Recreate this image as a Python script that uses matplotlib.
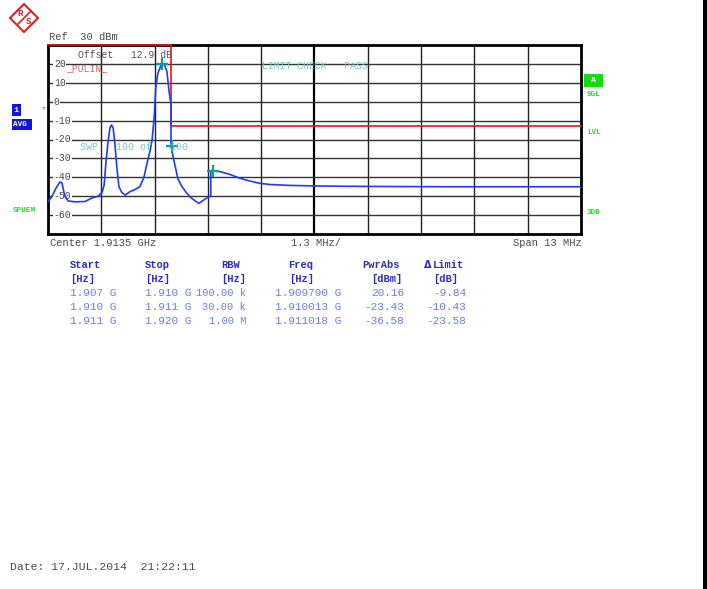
import matplotlib
matplotlib.use('Agg')
import matplotlib.pyplot as plt
from matplotlib.patches import Polygon, Rectangle

# spectrum trace (MHz, dBm)
freq_mhz = [1907.00, 1907.10, 1907.20, 1907.29, 1907.34, 1907.41, 1907.49, 1907.66,
            1907.90, 1908.07, 1908.22, 1908.32, 1908.37, 1908.41, 1908.46, 1908.51,
            1908.55, 1908.59, 1908.63, 1908.68, 1908.73, 1908.80, 1908.88, 1909.00,
            1909.12, 1909.24, 1909.34, 1909.41, 1909.49, 1909.54, 1909.59, 1909.63,
            1909.68, 1909.76, 1909.80, 1909.85, 1909.90, 1909.95, 1910.00, 1910.00,
            1910.02, 1910.10, 1910.17, 1910.27, 1910.37, 1910.46, 1910.59, 1910.68,
            1910.80, 1910.90, 1910.97, 1910.97, 1911.20, 1911.44, 1911.68, 1911.93,
            1912.17, 1912.41, 1912.90, 1913.63, 1914.60, 1915.58, 1916.80, 1918.02,
            1919.00, 1920.00]
level_dbm = [-53.0, -50.0, -45.5, -42.5, -43.0, -50.0, -52.5, -53.0,
             -52.8, -51.0, -50.0, -48.0, -44.0, -33.0, -22.0, -14.0,
             -12.3, -14.0, -22.0, -35.0, -45.0, -48.0, -49.4, -47.6,
             -46.5, -45.0, -40.0, -33.0, -26.0, -20.0, -8.0, 8.0,
             15.0, 19.5, 20.2, 19.0, 16.0, 6.0, -1.5, -22.0,
             -26.0, -34.0, -41.0, -45.0, -48.0, -50.3, -52.5, -53.8,
             -52.0, -50.5, -50.0, -36.5, -37.0, -38.5, -40.5, -42.0,
             -43.2, -43.8, -44.3, -44.6, -44.8, -44.9, -45.0, -45.0,
             -45.0, -45.0]

# limit line
limit_freq = [1907.0, 1910.0, 1910.0, 1920.0]
limit_dbm = [30, 30, -13, -13]

# markers
marker_freq = [1909.790, 1910.013, 1911.018]
marker_dbm = [20.16, -23.43, -36.58]

y_labels = [20, 10, 0, -10, -20, -30, -40, -50, -60]

# result table
t_start = ['1.907 G', '1.910 G', '1.911 G']
t_stop = ['1.910 G', '1.911 G', '1.920 G']
t_rbw = ['100.00 k', '30.00 k', '1.00 M']
t_freq = ['1.909790 G', '1.910013 G', '1.911018 G']
t_pwr = ['20.16', '-23.43', '-36.58']
t_lim = ['-9.84', '-10.43', '-23.58']

W, H = 707, 589
MONO = 'Liberation Mono'
GRAY = '#4a4a4a'
TEAL = '#7cc6c6'
GREEN = '#22dd22'
BLUE = '#1e3cff'

fig = plt.figure(figsize=(W / 100, H / 100), dpi=100)
fig.patch.set_facecolor('white')


def px(x, y):
    return x / W, 1 - y / H


def ftext(x, y, s, **kw):
    kw.setdefault('family', MONO)
    kw.setdefault('fontsize', 7.5)
    kw.setdefault('color', GRAY)
    kw.setdefault('va', 'center')
    fig.text(*px(x, y), s, **kw)


# plot area
l, r, t, b = 48, 581, 45, 234
ax = fig.add_axes([l / W, 1 - b / H, (r - l) / W, (b - t) / H])
ax.set_xlim(1907, 1920)
ax.set_ylim(-70, 30)
ax.set_xticks([])
ax.set_yticks([])
for s in ax.spines.values():
    s.set_linewidth(2)
    s.set_color('black')

for i in range(1, 10):
    x = 1907 + 1.3 * i
    ax.axvline(x, color='#222222' if i != 5 else 'black', lw=1.6 if i == 5 else 1.0, zorder=1)
for v in range(-60, 30, 10):
    ax.axhline(v, color='#333333', lw=1.0, zorder=1)

ytr = ax.get_yaxis_transform()
for v in y_labels:
    ax.text(0.011, v, str(v), transform=ytr, family=MONO, fontsize=7, color=GRAY,
            va='center', ha='left', zorder=2,
            bbox=dict(facecolor='white', edgecolor='none', pad=0.3))

ax.plot(limit_freq, limit_dbm, color='#ee1111', lw=1.2, zorder=4, clip_on=False)
ax.plot(freq_mhz, level_dbm, color=BLUE, lw=1.2, zorder=5)
ax.plot(marker_freq, marker_dbm, '+', color='#119a9a', ms=9, mew=1.6, zorder=6)

# texts inside the grid
ftext(78, 55, 'Offset   12.9 dB', color='#555555', fontsize=7)
ftext(66, 68, '_PULIN_', color='#e86060', fontsize=7)
ftext(262, 66, 'LIMIT CHECK   PASS', color=TEAL, fontsize=7)
ftext(80, 147, 'SWP   100 of   100', color=TEAL, fontsize=7.2)

# header / footer
ftext(49, 37, 'Ref  30 dBm')
ftext(50, 243, 'Center 1.9135 GHz')
ftext(291, 243, '1.3 MHz/')
ftext(513, 243, 'Span 13 MHz')
ftext(10, 567, 'Date: 17.JUL.2014  21:22:11', fontsize=8.2)

# left side labels
fig.patches.append(Rectangle(px(12, 116), 9 / W, 12 / H, transform=fig.transFigure,
                             facecolor='#1414e0', edgecolor='none'))
fig.patches.append(Rectangle(px(12, 130), 20 / W, 11 / H, transform=fig.transFigure,
                             facecolor='#1414e0', edgecolor='none'))
ftext(13.5, 110, '1', color='white', fontweight='bold', fontsize=6)
ftext(13, 124.5, 'AVG', color='white', fontweight='bold', fontsize=5.5)
ftext(41, 110, '*', color=GREEN, fontsize=7)
ftext(13, 211, 'SPUEM', color=GREEN, fontweight='bold', fontsize=5.5)

# right side labels
fig.patches.append(Rectangle(px(584, 87), 19 / W, 13 / H, transform=fig.transFigure,
                             facecolor='#11dd11', edgecolor='none'))
ftext(593.5, 80.5, 'A', color='white', fontweight='bold', fontsize=6, ha='center')
ftext(587, 95, 'SGL', color=GREEN, fontweight='bold', fontsize=5.5)
ftext(587, 133, 'LVL', color=GREEN, fontweight='bold', fontsize=5.5)
ftext(587, 212, '3DB', color=GREEN, fontweight='bold', fontsize=5.5)

# result table
HEAD = '#2a2ad8'
VAL = '#6a7ee8'
hk = dict(color=HEAD, fontweight='bold', fontsize=7.5)
ftext(70, 265, 'Start', **hk)
ftext(145, 265, 'Stop', **hk)
ftext(221, 265, 'RBW', **hk)
ftext(288, 265, 'Freq', **hk)
ftext(362, 265, 'PwrAbs', **hk)
ftext(424, 265, '\u0394', color=HEAD, fontweight='bold', fontsize=7, family='DejaVu Sans')
ftext(433, 265, 'Limit', **hk)
ftext(70, 279, '[Hz]', **hk)
ftext(145, 279, '[Hz]', **hk)
ftext(221, 279, '[Hz]', **hk)
ftext(289, 279, '[Hz]', **hk)
ftext(371, 279, '[dBm]', **hk)
ftext(433, 279, '[dB]', **hk)

for i, y in enumerate([293, 307, 321]):
    ftext(70, y, t_start[i], color=VAL, fontsize=8)
    ftext(145, y, t_stop[i], color=VAL, fontsize=8)
    ftext(246, y, t_rbw[i], color=VAL, ha='right', fontsize=7.5)
    ftext(275, y, t_freq[i], color=VAL, fontsize=8)
    ftext(404, y, t_pwr[i], color=VAL, ha='right', fontsize=8)
    ftext(466, y, t_lim[i], color=VAL, ha='right', fontsize=8)

# R&S logo
logo = [px(24, 4), px(38, 18), px(24, 32), px(10, 18)]
fig.patches.append(Polygon(logo, closed=True, transform=fig.transFigure,
                           facecolor='white', edgecolor='#dd2222', lw=1.5))
fig.lines.append(plt.Line2D([px(18, 24)[0], px(31, 11)[0]], [px(18, 24)[1], px(31, 11)[1]],
                            transform=fig.transFigure, color='#dd2222', lw=1.2))
ftext(20, 14, 'R', color='#dd2222', fontsize=6.5, fontweight='bold', ha='center')
ftext(28, 22, 'S', color='#dd2222', fontsize=6.5, fontweight='bold', ha='center')

# black strip at the right edge
fig.patches.append(Rectangle((703 / W, 0), 4 / W, 1, transform=fig.transFigure,
                             facecolor='black', edgecolor='none'))

fig.savefig('out.png', dpi=100)
